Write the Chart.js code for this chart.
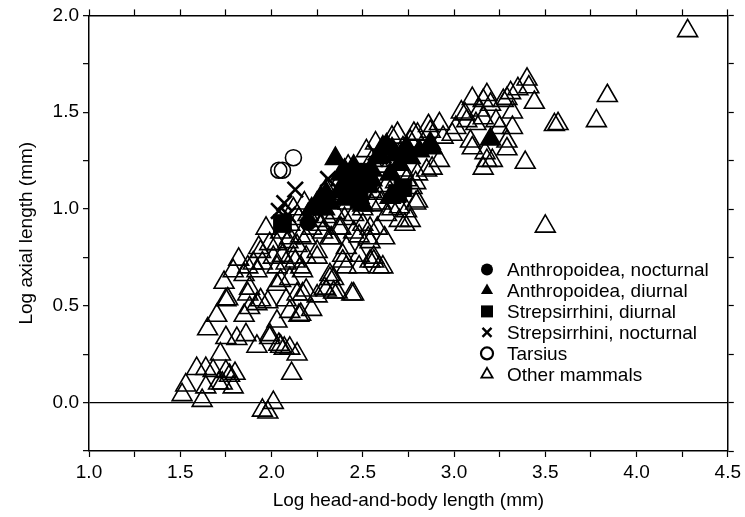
<!DOCTYPE html>
<html>
<head>
<meta charset="utf-8">
<script src="https://cdn.jsdelivr.net/npm/chart.js@4/dist/chart.umd.min.js"></script>
<style>
  html, body { margin: 0; padding: 0; background: #fff; }
  #wrap { width: 745px; height: 517px; }
</style>
</head>
<body>
<div id="wrap"><canvas id="chart" width="745" height="517"></canvas></div>
<script>
// values: [log head-and-body length, log axial length]
const anthropoideaNocturnal = [[2.20, 0.93]];

const anthropoideaDiurnal = [
    [2.35, 1.26], [2.27, 1.06], [2.32, 1.03], [2.37, 1.09], [2.43, 1.11], [2.43, 1.16],
    [2.46, 1.18], [2.48, 1.13], [2.40, 1.20], [2.45, 1.22], [2.58, 1.265], [2.61, 1.32],
    [2.63, 1.33], [2.65, 1.18], [2.70, 1.23], [2.65, 1.06], [2.74, 1.32], [2.87, 1.34],
    [2.88, 1.315], [2.81, 1.30], [2.76, 1.265], [3.20, 1.36], [2.55, 1.20], [2.52, 1.15],
    [2.30, 1.08], [2.22, 1.00], [2.68, 1.28], [2.40, 1.05], [2.45, 1.08], [2.50, 1.02],
    [2.38, 1.18], [2.55, 1.15], [2.25, 1.03], [2.29, 1.00], [2.66, 1.31], [2.60, 1.27],
    [2.71, 1.28]
];

const strepsirrhiniDiurnal = [
    [2.06, 0.925], [2.50, 1.17], [2.47, 1.10], [2.42, 1.12], [2.69, 1.08], [2.53, 1.13],
    [2.45, 1.19], [2.50, 1.19], [2.48, 1.05], [2.72, 1.11]
];

const strepsirrhiniNocturnal = [
    [2.13, 1.10], [2.07, 1.03], [2.04, 0.99], [2.31, 1.155], [2.57, 1.29], [2.09, 0.97]
];

const tarsius = [[2.04, 1.20], [2.06, 1.20], [2.12, 1.265]];

const otherMammals = [
    [4.28, 1.92], [3.84, 1.585], [3.78, 1.455], [3.55, 1.435], [3.57, 1.44], [3.50, 0.91], [3.39, 1.24],
    [3.40, 1.67], [3.41, 1.63], [3.44, 1.55], [3.35, 1.62], [3.31, 1.60], [3.29, 1.57], [3.27, 1.56],
    [3.32, 1.50], [3.32, 1.42], [3.25, 1.42], [3.29, 1.35], [3.29, 1.31], [3.18, 1.59], [3.16, 1.56],
    [3.14, 1.51], [3.20, 1.54], [3.10, 1.57], [3.04, 1.50], [3.07, 1.455], [3.12, 1.44], [3.23, 1.455],
    [3.01, 1.42], [2.99, 1.385], [3.09, 1.35], [3.10, 1.315], [3.17, 1.29], [3.18, 1.25], [3.16, 1.21],
    [3.21, 1.25], [3.06, 1.49], [3.16, 1.47],
    [2.92, 1.44], [2.87, 1.40], [2.94, 1.37], [2.80, 1.385], [2.76, 1.35], [2.72, 1.315], [2.92, 1.25],
    [2.88, 1.21], [2.80, 1.18], [2.85, 1.20], [2.79, 1.135], [2.80, 1.04], [2.74, 0.99], [2.76, 0.94],
    [2.73, 0.92], [2.79, 1.03], [2.77, 1.11], [2.70, 1.01], [2.69, 1.39], [2.78, 1.39], [2.86, 1.43],
    [2.72, 1.20], [2.68, 1.14], [2.74, 1.15], [2.70, 0.94],
    [2.62, 0.85], [2.61, 0.70], [2.56, 0.75], [2.63, 0.97], [2.58, 0.90], [2.52, 1.30], [2.57, 1.34],
    [2.66, 1.37], [2.55, 1.25], [2.60, 1.22], [2.66, 1.25], [2.63, 1.12], [2.58, 1.08], [2.55, 1.02],
    [2.50, 1.00], [2.45, 0.97], [2.40, 0.95], [2.35, 0.98], [2.30, 0.96], [2.25, 0.94], [2.20, 0.97],
    [2.15, 0.95], [2.10, 0.92], [2.05, 0.88], [2.12, 1.00], [2.18, 1.03], [2.25, 1.00], [2.42, 1.03],
    [2.48, 1.06], [2.60, 1.03], [2.66, 1.00], [2.38, 0.90], [2.45, 0.88], [2.50, 0.92], [2.53, 0.85],
    [2.33, 0.85], [2.28, 0.88], [2.22, 0.90], [2.16, 0.86], [2.10, 0.85], [2.03, 0.82],
    [2.30, 1.10], [2.38, 1.15], [2.42, 1.22],
    [1.97, 0.90], [1.94, 0.78], [1.99, 0.82], [2.09, 0.83], [2.14, 0.81], [2.19, 0.85], [2.27, 0.92],
    [2.25, 0.78], [2.32, 0.85], [2.37, 0.90], [2.41, 0.80], [2.48, 0.86], [2.54, 0.90], [2.55, 1.09],
    [2.54, 0.83], [2.39, 0.73], [2.48, 0.70], [2.16, 0.70], [2.08, 0.72], [2.19, 0.75], [2.32, 0.66],
    [2.56, 0.73], [1.87, 0.70], [1.90, 0.72],
    [1.93, 0.80], [1.82, 0.74], [1.79, 0.68], [1.85, 0.66], [1.95, 0.72], [2.01, 0.75], [2.05, 0.63],
    [2.10, 0.64], [2.17, 0.68], [2.25, 0.75], [2.13, 0.73], [1.74, 0.62], [1.88, 0.59], [1.76, 0.535],
    [1.94, 0.53], [1.98, 0.52], [1.88, 0.49], [1.85, 0.45], [1.70, 0.45], [1.65, 0.38], [2.03, 0.42],
    [2.08, 0.53], [2.14, 0.56], [2.19, 0.58], [2.25, 0.55], [2.32, 0.64], [2.30, 0.58], [2.36, 0.57],
    [2.44, 0.56], [2.10, 0.47], [2.15, 0.45], [1.75, 0.335], [1.86, 0.35], [1.92, 0.29], [1.99, 0.335],
    [2.05, 0.29], [2.10, 0.28], [2.14, 0.25], [1.72, 0.25], [1.64, 0.175], [1.68, 0.165], [1.75, 0.16],
    [1.80, 0.15], [1.73, 0.10], [1.64, 0.08], [1.79, 0.08], [1.53, 0.09], [1.62, 0.01], [2.11, 0.15],
    [1.95, -0.04], [2.01, 0.00], [1.98, -0.05],
    [1.51, 0.04], [1.59, 0.175], [1.71, 0.10], [1.77, 0.14], [1.75, 0.53], [1.81, 0.33], [1.87, 0.56],
    [1.92, 0.51], [1.99, 0.35], [2.04, 0.30], [2.07, 0.28], [2.16, 0.455], [2.22, 0.48], [2.17, 0.56],
    [2.03, 0.61], [2.29, 0.59], [2.34, 0.64], [2.34, 0.57], [2.45, 0.56], [2.41, 0.70], [2.48, 0.76],
    [2.59, 0.70], [2.54, 0.73], [1.92, 0.68], [2.03, 0.70], [2.12, 0.75], [2.06, 0.76], [2.39, 0.76]
];

const xTickLabels = ['1.0', '1.5', '2.0', '2.5', '3.0', '3.5', '4.0', '4.5'];
const yTickLabels = ['0.0', '0.5', '1.0', '1.5', '2.0'];

const FONT = "'Liberation Sans', Arial, Helvetica, sans-serif";
const toPoints = arr => arr.map(p => ({ x: p[0], y: p[1] }));

// only every other tick (0.5 steps) carries a label
function labelFor(list, value) {
    const hit = list.find(l => Math.abs(parseFloat(l) - value) < 1e-6);
    return hit === undefined ? '' : hit;
}

const datasets = [
    {
        label: 'Other mammals', data: toPoints(otherMammals), order: 6,
        pointStyle: 'triangle', pointRadius: 11.5, pointBorderWidth: 1.6,
        borderColor: '#000', backgroundColor: 'rgba(0,0,0,0)'
    },
    {
        label: 'Tarsius', data: toPoints(tarsius), order: 5,
        pointStyle: 'circle', pointRadius: 8, pointBorderWidth: 1.6,
        borderColor: '#000', backgroundColor: 'rgba(0,0,0,0)'
    },
    {
        label: 'Strepsirrhini, nocturnal', data: toPoints(strepsirrhiniNocturnal), order: 4,
        pointStyle: 'crossRot', pointRadius: 11, pointBorderWidth: 2.6,
        borderColor: '#000', backgroundColor: '#000'
    },
    {
        label: 'Strepsirrhini, diurnal', data: toPoints(strepsirrhiniDiurnal), order: 3,
        pointStyle: 'rect', pointRadius: 12.5, pointBorderWidth: 1,
        borderColor: '#000', backgroundColor: '#000'
    },
    {
        label: 'Anthropoidea, diurnal', data: toPoints(anthropoideaDiurnal), order: 2,
        pointStyle: 'triangle', pointRadius: 11.5, pointBorderWidth: 1.6,
        borderColor: '#000', backgroundColor: '#000'
    },
    {
        label: 'Anthropoidea, nocturnal', data: toPoints(anthropoideaNocturnal), order: 1,
        pointStyle: 'circle', pointRadius: 8, pointBorderWidth: 1,
        borderColor: '#000', backgroundColor: '#000'
    }
];

// legend drawn inside the plot, lower right, with small markers
const legendOrder = ['Anthropoidea, nocturnal', 'Anthropoidea, diurnal', 'Strepsirrhini, diurnal',
    'Strepsirrhini, nocturnal', 'Tarsius', 'Other mammals'];

const insideLegend = {
    id: 'insideLegend',
    afterDraw(chart) {
        const ctx = chart.ctx;
        const area = chart.chartArea;
        const mx = area.left + 398;
        const tx = area.left + 418;
        let y = area.top + 254;
        ctx.save();
        ctx.fillStyle = '#000';
        ctx.strokeStyle = '#000';
        ctx.font = '19px ' + FONT;
        ctx.textBaseline = 'middle';
        ctx.textAlign = 'left';
        legendOrder.forEach(name => {
            const ds = chart.data.datasets.find(d => d.label === name);
            ctx.beginPath();
            if (ds.pointStyle === 'circle') {
                ctx.arc(mx, y, 6, 0, Math.PI * 2);
                if (ds.backgroundColor === '#000') ctx.fill();
                else { ctx.lineWidth = 2.2; ctx.stroke(); }
            } else if (ds.pointStyle === 'triangle') {
                const r = ds.backgroundColor === '#000' ? 7 : 6.5;
                ctx.moveTo(mx, y - r);
                ctx.lineTo(mx + r * 0.866, y + r / 2);
                ctx.lineTo(mx - r * 0.866, y + r / 2);
                ctx.closePath();
                if (ds.backgroundColor === '#000') ctx.fill();
                else { ctx.lineWidth = 1.8; ctx.stroke(); }
            } else if (ds.pointStyle === 'rect') {
                ctx.rect(mx - 6, y - 6, 12, 12);
                ctx.fill();
            } else {
                ctx.lineWidth = 2.4;
                ctx.moveTo(mx - 4.5, y - 4.5); ctx.lineTo(mx + 4.5, y + 4.5);
                ctx.moveTo(mx + 4.5, y - 4.5); ctx.lineTo(mx - 4.5, y + 4.5);
                ctx.stroke();
            }
            ctx.fillText(name, tx, y + 1);
            y += 21;
        });
        ctx.restore();
    }
};

const tickFont = { family: FONT, size: 19 };
const axisBorder = { display: true, color: '#000', width: 1.5 };

new Chart(document.getElementById('chart'), {
    type: 'scatter',
    data: { datasets: datasets },
    options: {
        responsive: false,
        animation: false,
        devicePixelRatio: 1,
        layout: { padding: 0 },
        plugins: { legend: { display: false }, tooltip: { enabled: false } },
        elements: { line: { borderWidth: 0 } },
        scales: {
            x: {
                type: 'linear', position: 'bottom', min: 1, max: 4.5,
                afterFit: s => { s.height = 66; },
                border: axisBorder,
                grid: { drawOnChartArea: false, tickLength: 6, tickColor: '#000', tickWidth: 1.2 },
                ticks: {
                    stepSize: 0.25, autoSkip: false, maxRotation: 0, padding: 4,
                    color: '#000', font: tickFont,
                    callback: v => labelFor(xTickLabels, v)
                },
                title: {
                    display: true, text: 'Log head-and-body length (mm)', color: '#000',
                    font: { family: FONT, size: 19 }, padding: { top: 0, bottom: 5 }
                }
            },
            x2: {
                type: 'linear', position: 'top', min: 1, max: 4.5,
                afterFit: s => { s.height = 14; },
                border: axisBorder,
                grid: { drawOnChartArea: false, tickLength: 6, tickColor: '#000', tickWidth: 1.2 },
                ticks: { stepSize: 0.25, autoSkip: false, display: false }
            },
            y: {
                type: 'linear', position: 'left', min: -0.25, max: 2.0,
                afterFit: s => { s.width = 89; },
                border: axisBorder,
                grid: {
                    drawOnChartArea: true, tickLength: 6, tickColor: '#000', tickWidth: 1.2,
                    color: c => (c.tick && c.tick.value === 0) ? '#000' : 'rgba(0,0,0,0)',
                    lineWidth: 1.3
                },
                ticks: {
                    stepSize: 0.25, autoSkip: false, padding: 4,
                    color: '#000', font: tickFont,
                    callback: v => labelFor(yTickLabels, v)
                },
                title: {
                    display: true, text: 'Log axial length (mm)', color: '#000',
                    font: { family: FONT, size: 19 }, padding: { top: 15, bottom: 0 }
                }
            },
            y2: {
                type: 'linear', position: 'right', min: -0.25, max: 2.0,
                afterFit: s => { s.width = 17; },
                border: axisBorder,
                grid: { drawOnChartArea: false, tickLength: 6, tickColor: '#000', tickWidth: 1.2 },
                ticks: { stepSize: 0.25, autoSkip: false, display: false }
            }
        }
    },
    plugins: [insideLegend]
});
</script>
</body>
</html>
